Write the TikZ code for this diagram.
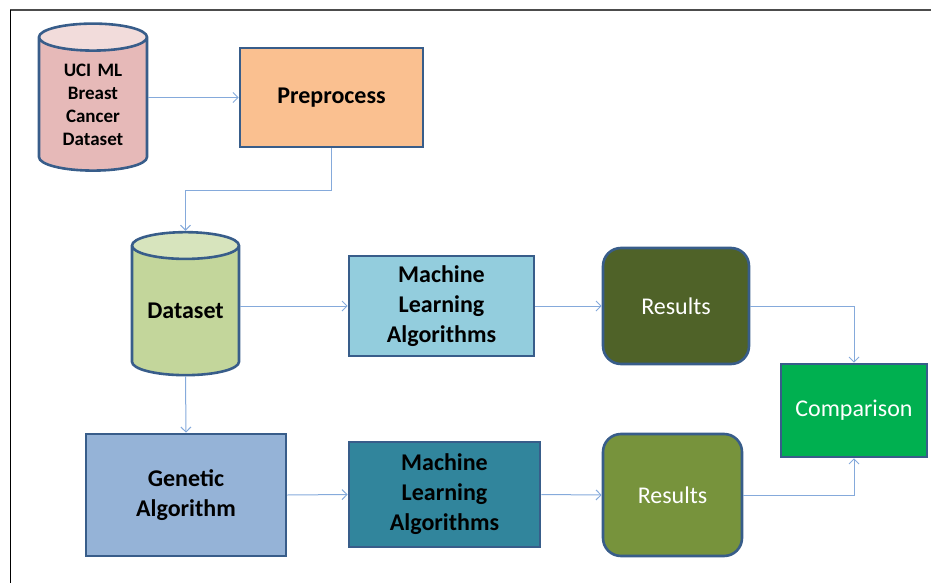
\documentclass[tikz,border=0pt]{standalone}
\usepackage{fontspec}
\setmainfont{Carlito}
\usetikzlibrary{arrows.meta,shapes.geometric}
\definecolor{edgeblue}{HTML}{385D8A}
\definecolor{linkblue}{HTML}{85AADB}
\definecolor{ucibody}{HTML}{E6B9B8}
\definecolor{ucitop}{HTML}{F2DCDB}
\definecolor{prefill}{HTML}{FAC090}
\definecolor{databody}{HTML}{C3D69B}
\definecolor{datatop}{HTML}{D7E4BD}
\definecolor{mlone}{HTML}{93CDDD}
\definecolor{mltwo}{HTML}{31859C}
\definecolor{gafill}{HTML}{95B3D7}
\definecolor{resone}{HTML}{4F6228}
\definecolor{restwo}{HTML}{77933C}
\definecolor{cmpfill}{HTML}{00B050}

\begin{document}
\begin{tikzpicture}[x=1pt,y=-1pt,
	box/.style={draw=edgeblue,line width=2.6pt,align=center,inner sep=0pt,font=\bfseries\fontsize{24}{30}\selectfont},
	resbox/.style={box,rounded corners=18pt,text=white,font=\fontsize{24}{28}\selectfont},
	db/.style={cylinder,shape border rotate=90,aspect=0.25,draw=edgeblue,line width=2.6pt,cylinder uses custom fill,align=center,inner sep=0pt},
	link/.style={draw=linkblue,line width=1pt,-{Straight Barb[length=5pt,width=10pt]}}]
			\useasboundingbox (0,0) rectangle (931,583);
			\draw [gray!60!black,line width=1.6pt] (10,10) -- (931,10);
			\draw [black,line width=0.8pt] (10,10) -- (10,583);
			\node [db,cylinder body fill=ucibody,cylinder end fill=ucitop,text width=108,minimum height=147,font=\bfseries\fontsize{19}{23}\selectfont] (uci) at (93,104.5) {UCI ML\\Breast\\Cancer\\Dataset};
			\node [box,fill=prefill,minimum width=183,minimum height=99] (pre) at (331.5,97.5) {Preprocess};
			\node [db,cylinder body fill=databody,cylinder end fill=datatop,text width=107,minimum height=143,font=\bfseries\fontsize{24}{28}\selectfont] (data) at (185.5,311) {Dataset};
			\node [box,fill=mlone,minimum width=185,minimum height=100] (mlA) at (441.5,306) {Machine\\Learning\\Algorithms};
			\node [resbox,fill=resone,minimum width=146,minimum height=116] (resA) at (676,306) {Results};
			\node [box,fill=cmpfill,minimum width=146,minimum height=93,text=white,font=\fontsize{24}{28}\selectfont] (cmp) at (854,410.5) {Comparison};
			\node [box,fill=gafill,minimum width=200,minimum height=122] (ga) at (186,495) {Genetic\\Algorithm};
			\node [box,fill=mltwo,minimum width=191,minimum height=105] (mlB) at (444.5,494.5) {Machine\\Learning\\Algorithms};
			\node [resbox,fill=restwo,minimum width=139,minimum height=122] (resB) at (672.5,495) {Results};
			\draw [link] (uci.east |- pre.west) -- (pre.west);
			\draw [link] (pre.south) -- ++(0,42) -| (data.north);
			\draw [link] (data.east |- mlA.west) -- (mlA.west);
			\draw [link] (mlA.east) -- (resA.west);
			\draw [link] (resA.east) -| (cmp.north);
			\draw [link] (data.south) -- (ga.north);
			\draw [link] (ga.east) -- (mlB.west);
			\draw [link] (mlB.east) -- (resB.west);
			\draw [link] (resB.east) -| (cmp.south);
\end{tikzpicture}
\end{document}
